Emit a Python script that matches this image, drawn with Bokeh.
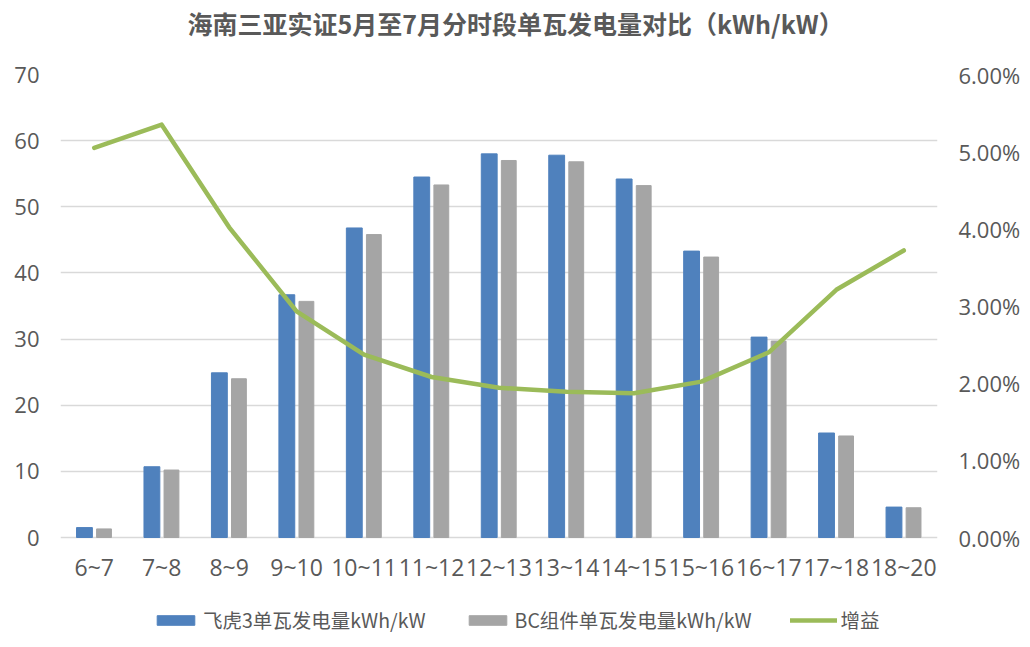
from bokeh.plotting import figure
from bokeh.models import (ColumnDataSource, FactorRange, Range1d, LinearAxis,
                          FixedTicker, NumeralTickFormatter, Legend, LegendItem,
                          Title)
from bokeh.core.properties import value
from bokeh.transform import dodge
from bokeh.embed import file_html
from bokeh.resources import INLINE

# time slots and values
slots = ["6~7", "7~8", "8~9", "9~10", "10~11", "11~12", "12~13",
         "13~14", "14~15", "15~16", "16~17", "17~18", "18~20"]
feihu = [1.5, 10.7, 24.9, 36.7, 46.8, 54.5, 58.0, 57.8, 54.2, 43.3, 30.3, 15.8, 4.6]
bc = [1.3, 10.2, 24.0, 35.7, 45.8, 53.3, 57.0, 56.8, 53.2, 42.4, 29.7, 15.35, 4.5]
gain = [0.0505, 0.0535, 0.0402, 0.0293, 0.0237, 0.0208, 0.0194,
        0.0189, 0.0187, 0.0202, 0.0240, 0.0321, 0.0372]

left_ticks = [0, 10, 20, 30, 40, 50, 60, 70]
right_ticks = [0, 0.01, 0.02, 0.03, 0.04, 0.05, 0.06]
title_text = "海南三亚实证5月至7月分时段单瓦发电量对比（kWh/kW）"

BLUE = "#4F81BD"
GRAY = "#A5A5A5"
GREEN = "#9BBB59"
TEXT = "#595959"
GRID = "#D9D9D9"

# the frame runs below zero so the slot labels and legend sit inside it
Y_MIN, Y_MAX = -15.57, 70
PCT_MAX = 0.06
PCT_MIN = Y_MIN / Y_MAX * PCT_MAX

source = ColumnDataSource(data=dict(slot=slots, feihu=feihu, bc=bc, gain=gain))

p = figure(x_range=FactorRange(*slots, range_padding=0), y_range=Range1d(Y_MIN, Y_MAX),
           frame_width=877, frame_height=566, output_backend="svg",
           toolbar_location=None, min_border_left=60, min_border_right=90,
           min_border_top=0, min_border_bottom=5)
p.extra_y_ranges = {"pct": Range1d(PCT_MIN, PCT_MAX)}
p.outline_line_color = None

# spacer between title and frame
p.add_layout(Title(text=" ", text_font_size="1px", standoff=25), "above")

p.title.text = title_text
p.title.align = "left"
p.title.offset = 127
p.title.vertical_align = "top"
p.title.text_font = "Noto Sans CJK SC"
p.title.text_font_style = "bold"
p.title.text_font_size = "25px"
p.title.text_color = TEXT
p.title.standoff = 8

b1 = p.vbar(x=dodge("slot", -0.145, range=p.x_range), top="feihu", width=0.235,
            source=source, color=BLUE)
b2 = p.vbar(x=dodge("slot", 0.145, range=p.x_range), top="bc", width=0.22,
            source=source, color=GRAY)
ln = p.line("slot", "gain", source=source, y_range_name="pct", color=GREEN,
            line_width=4.5, line_cap="round", line_join="round")

# slot labels under the zero line
p.text(x="slot", y=-4.5, text="slot", source=source, text_align="center",
       text_baseline="middle", text_font=value("Open Sans"),
       text_font_size="23px", text_color=TEXT)

# axes
p.yaxis.ticker = FixedTicker(ticks=left_ticks)
p.yaxis.axis_line_color = None
p.yaxis.major_tick_line_color = None
p.yaxis.minor_tick_line_color = None
p.yaxis.major_label_standoff = 15
p.yaxis.major_label_text_font = "Open Sans"
p.yaxis.major_label_text_font_size = "22px"
p.yaxis.major_label_text_color = TEXT

right = LinearAxis(y_range_name="pct", ticker=FixedTicker(ticks=right_ticks),
                   formatter=NumeralTickFormatter(format="0.00%"))
right.axis_line_color = None
right.major_tick_line_color = None
right.minor_tick_line_color = None
right.major_label_standoff = 15
right.major_label_text_font = "Open Sans"
right.major_label_text_font_size = "22px"
right.major_label_text_color = TEXT
p.add_layout(right, "right")

p.xaxis.visible = False

p.xgrid.grid_line_color = None
p.ygrid.ticker = FixedTicker(ticks=left_ticks)
p.ygrid.grid_line_color = GRID
p.ygrid.grid_line_width = 1.5

# legend at the bottom of the frame
legend = Legend(items=[
    LegendItem(label="飞虎3单瓦发电量kWh/kW", renderers=[b1]),
    LegendItem(label="BC组件单瓦发电量kWh/kW", renderers=[b2]),
    LegendItem(label="增益", renderers=[ln]),
], orientation="horizontal", location=(92, 6))
legend.border_line_color = None
legend.background_fill_alpha = 0
legend.glyph_width = 47
legend.glyph_height = 12
legend.label_standoff = 4
legend.spacing = 38
legend.label_text_font = "Noto Sans CJK SC"
legend.label_text_font_size = "19.5px"
legend.label_text_color = TEXT
legend.padding = 5
legend.margin = 0
p.add_layout(legend, "center")

open("out.html", "w").write(file_html(p, INLINE))
